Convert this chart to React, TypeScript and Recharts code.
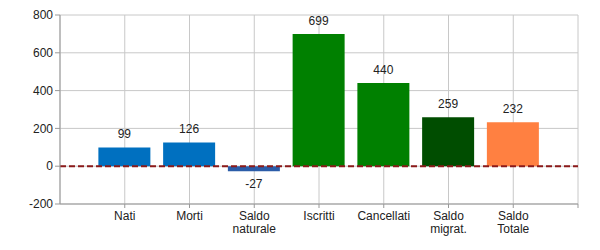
import React from "react";
import {
  ComposedChart,
  Bar,
  XAxis,
  YAxis,
  CartesianGrid,
  ReferenceLine,
  Cell,
  LabelList,
} from "recharts";

const categories = ["Nati", "Morti", "Saldo\nnaturale", "Iscritti", "Cancellati", "Saldo\nmigrat.", "Saldo\nTotale"];
const values = [99, 126, -27, 699, 440, 259, 232];
const barColors = ["#0070c0", "#0070c0", "#2b5ca8", "#008000", "#008000", "#004d00", "#ff8041"];
const yTicks = [-200, 0, 200, 400, 600, 800];
const xTicks = [1, 2, 3, 4, 5, 6, 7, 8];

const data = categories.map((c, i) => ({ x: i + 1, name: c, value: values[i] }));

const font = "Arial, 'Liberation Sans', sans-serif";

function XTick(props: any) {
  const { x, y, payload } = props;
  const label = categories[payload.value - 1];
  if (!label) return null;
  const lines = label.split("\n");
  return (
    <text x={x} y={y} textAnchor="middle" fontSize={12} fontFamily={font} fill="#222">
      {lines.map((l: string, i: number) => (
        <tspan key={i} x={x} dy={i === 0 ? 10 : 13}>
          {l}
        </tspan>
      ))}
    </text>
  );
}

function BarLabel(props: any) {
  const { x, y, width, height, value } = props;
  const top = Math.min(y, y + height);
  const bottom = Math.max(y, y + height);
  const ty = value < 0 ? bottom + 17 : top - 9;
  return (
    <text x={x + width / 2} y={ty} textAnchor="middle" fontSize={12} fontFamily={font} fill="#222">
      {value}
    </text>
  );
}

export default function App() {
  return (
    <div style={{ position: "absolute", left: 0, top: 0 }}>
      <ComposedChart
        width={600}
        height={250}
        data={data}
        margin={{ top: 15, right: 22, bottom: 0, left: 5 }}
      >
        <CartesianGrid stroke="#c8c8c8" />
        <XAxis
          type="number"
          dataKey="x"
          domain={[0, 8]}
          ticks={xTicks}
          interval={0}
          height={46}
          stroke="#999"
          tickSize={4}
          tick={<XTick />}
        />
        <YAxis
          type="number"
          domain={[-200, 800]}
          ticks={yTicks}
          width={55}
          stroke="#999"
          tickSize={5}
          tick={{ fontSize: 12, fontFamily: font, fill: "#222" }}
        />
        <Bar dataKey="value" barSize={52} isAnimationActive={false}>
          {data.map((d, i) => (
            <Cell key={i} fill={barColors[i]} />
          ))}
          <LabelList dataKey="value" content={<BarLabel />} />
        </Bar>
        <ReferenceLine y={0} stroke="#8b1a1a" strokeWidth={2} strokeDasharray="6 3" />
      </ComposedChart>
    </div>
  );
}
